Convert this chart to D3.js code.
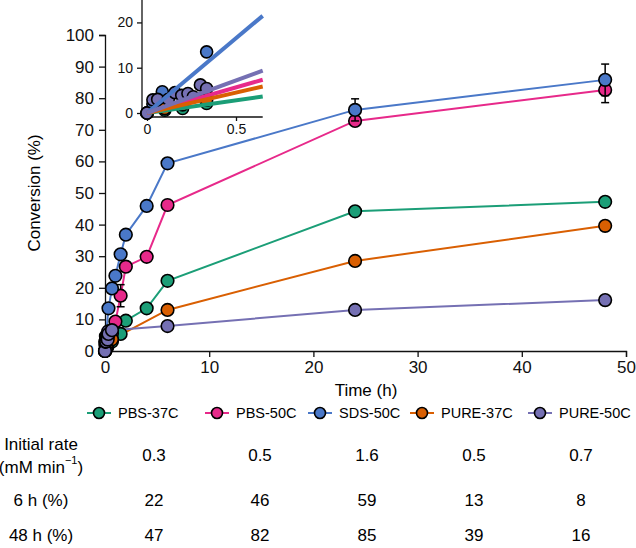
<!DOCTYPE html>
<html><head><meta charset="utf-8">
<script src="https://cdn.jsdelivr.net/npm/d3@7"></script>
<style>body{margin:0;background:#fff}svg{display:block;font-family:"Liberation Sans",Arial,sans-serif}</style>
</head><body>
<svg id="c" width="636" height="548"></svg>
<script>
const seriesNames = ["PBS-37C","PBS-50C","SDS-50C","PURE-37C","PURE-50C"];
const seriesColors = ["#1b9e77","#e7298a","#4a78c8","#d95f02","#7570b3"];

const timesPBS37 = [0,0.1,0.2,0.335,0.67,1.5,2,4,6,24,48];
const valsPBS37  = [0,0.6,1,2.1,3,5.4,9.6,13.5,22.2,44.2,47.2];
const errPBS37   = [0,0,0,0,0,0,0,0,0,0.8,1.5];

const timesPBS50 = [0,0.1,0.2,0.335,0.67,1,1.5,2,4,6,24,48];
const valsPBS50  = [0,1,2,3.5,5.5,9.3,17.5,26.7,29.8,46.2,72.8,82.6];
const errPBS50   = [0,0,0,0,0,0,3.5,0,1.5,0.5,0.8,4];

const timesSDS50 = [0,0.033,0.086,0.335,0.67,1,1.5,2,4,6,24,48];
const valsSDS50  = [0,2,4.7,13.5,19.8,23.8,30.6,36.8,45.9,59.4,76.3,85.8];
const errSDS50   = [0,0,0,0,0,0,0,0,0,1.5,3.5,5];

const timesPURE37 = [0,0.1,0.2,0.335,0.67,6,24,48];
const valsPURE37  = [0,1,1.8,2.8,3.7,13,28.5,39.6];
const errPURE37   = [0,0,0,0,0,0.5,1.5,0.5];

const timesPURE50 = [0,0.033,0.06,0.12,0.157,0.195,0.23,0.26,0.3,0.335,0.67,6,24,48];
const valsPURE50  = [0,2.9,3,3,4.5,3.9,4.3,3.6,6.2,5.4,6.6,7.9,13,16.1];
const errPURE50   = [0,0,0,0,0,0,0,0,0,0,0,0,0,0.5];

// initial slopes of the linear fits shown in the inset (% per h)
const insetSlopes = [5.6,11.3,33,9,14.4];

const initialRate = ["0.3","0.5","1.6","0.5","0.7"];
const conv6h = ["22","46","59","13","8"];
const conv48h = ["47","82","85","39","16"];

const xTicks = [0,10,20,30,40,50];
const yTicks = [0,10,20,30,40,50,60,70,80,90,100];
const insetXTicks = [0,0.5];
const insetYTicks = [0,10,20];

const series = seriesNames.map((n,i)=>{
  const T=[timesPBS37,timesPBS50,timesSDS50,timesPURE37,timesPURE50][i];
  const V=[valsPBS37,valsPBS50,valsSDS50,valsPURE37,valsPURE50][i];
  const E=[errPBS37,errPBS50,errSDS50,errPURE37,errPURE50][i];
  return {name:n,color:seriesColors[i],slope:insetSlopes[i],pts:T.map((t,j)=>({t,v:V[j],e:E[j]}))};
});

const svg = d3.select("#c");
const FONT = 17;

// main scales
const x = d3.scaleLinear().domain([0,50]).range([105,626]);
const y = d3.scaleLinear().domain([0,100]).range([351,35]);

const xAx = svg.append("g").attr("transform","translate(0,351)")
  .call(d3.axisBottom(x).tickValues(xTicks).tickSizeOuter(0).tickSize(6).tickPadding(4));
const yAx = svg.append("g").attr("transform","translate(105,0)")
  .call(d3.axisLeft(y).tickValues(yTicks).tickSizeOuter(0).tickSize(6).tickPadding(5));
[xAx,yAx].forEach(a=>{a.selectAll("text").attr("font-size",FONT).attr("font-family","Liberation Sans, Arial, sans-serif").attr("fill","#111");
  a.selectAll("line,path").attr("stroke","#111").attr("stroke-width",1.3);});

svg.append("text").attr("x",366).attr("y",390).attr("text-anchor","middle").attr("dominant-baseline","central")
  .attr("font-size",FONT).text("Time (h)");
svg.append("text").attr("transform","translate(34,193) rotate(-90)").attr("text-anchor","middle").attr("dominant-baseline","central")
  .attr("font-size",FONT).text("Conversion (%)");

const line = d3.line().x(d=>x(d.t)).y(d=>y(d.v));
const gMain = svg.append("g");
series.forEach(s=>{
  gMain.append("path").datum(s.pts).attr("d",line).attr("fill","none").attr("stroke",s.color).attr("stroke-width",2);
});
series.forEach(s=>{
  const g=gMain.append("g");
  s.pts.filter(d=>d.e>0).forEach(d=>{
    g.append("line").attr("x1",x(d.t)).attr("x2",x(d.t)).attr("y1",y(d.v-d.e)).attr("y2",y(d.v+d.e)).attr("stroke","#000").attr("stroke-width",1.5);
    [d.v-d.e,d.v+d.e].forEach(vv=>g.append("line").attr("x1",x(d.t)-4).attr("x2",x(d.t)+4).attr("y1",y(vv)).attr("y2",y(vv)).attr("stroke","#000").attr("stroke-width",1.5));
  });
  g.selectAll("circle").data(s.pts).join("circle").attr("cx",d=>x(d.t)).attr("cy",d=>y(d.v)).attr("r",6.3)
    .attr("fill",s.color).attr("stroke","#000").attr("stroke-width",1.6);
});

// inset
const iMax = 0.65;
const ix = d3.scaleLinear().domain([0,iMax]).range([147,147+178*iMax]);
const iy = d3.scaleLinear().domain([0,25.9]).range([113,-4.3]);
const ixAx = svg.append("g").attr("transform","translate(0,117)")
  .call(d3.axisBottom(ix).tickValues(insetXTicks).tickFormat(d3.format("")).tickSizeOuter(0).tickSize(4).tickPadding(3));
const iyAx = svg.append("g").attr("transform","translate(142,0)")
  .call(d3.axisLeft(iy).tickValues(insetYTicks).tickSizeOuter(0).tickSize(5).tickPadding(4));
ixAx.select("path.domain").attr("d","M142,0H"+ix(iMax));
iyAx.select("path.domain").attr("d","M0,117V0");
[ixAx,iyAx].forEach(a=>{a.selectAll("text").attr("font-size",14).attr("font-family","Liberation Sans, Arial, sans-serif").attr("fill","#111");
  a.selectAll("line,path").attr("stroke","#111").attr("stroke-width",1.3);});

const gIn = svg.append("g");
series.forEach(s=>{
  gIn.append("g").selectAll("circle").data(s.pts.filter(d=>d.t<=iMax)).join("circle")
    .attr("cx",d=>ix(d.t)).attr("cy",d=>iy(d.v)).attr("r",6).attr("fill",s.color).attr("stroke","#000").attr("stroke-width",1.6);
});
series.forEach(s=>{
  const tEnd = Math.min(iMax, 25.9/s.slope);
  gIn.append("line").attr("x1",ix(0)).attr("y1",iy(0)).attr("x2",ix(tEnd)).attr("y2",iy(s.slope*tEnd))
    .attr("stroke",s.color).attr("stroke-width",4);
});

// legend
const legX = [99,217,320,422,540];
const legY = 413;
series.forEach((s,i)=>{
  const g=svg.append("g");
  g.append("line").attr("x1",legX[i]-12).attr("x2",legX[i]+12).attr("y1",legY).attr("y2",legY).attr("stroke",s.color).attr("stroke-width",2);
  g.append("circle").attr("cx",legX[i]).attr("cy",legY).attr("r",5.5).attr("fill",s.color).attr("stroke","#000").attr("stroke-width",1.6);
  g.append("text").attr("x",legX[i]+19).attr("y",legY).attr("dominant-baseline","central").attr("font-size",14.5).text(s.name);
});

// table
const colX = [154,260,367,474,581];
const rowLabelX = 41;
svg.append("text").attr("x",rowLabelX).attr("y",444).attr("text-anchor","middle").attr("dominant-baseline","central").attr("font-size",FONT).text("Initial rate");
const t2 = svg.append("text").attr("x",rowLabelX).attr("y",467).attr("text-anchor","middle").attr("dominant-baseline","central").attr("font-size",FONT);
t2.append("tspan").text("(mM min");
t2.append("tspan").attr("font-size",11).attr("dy",-7).text("−1");
t2.append("tspan").attr("dy",7).text(")");
svg.append("text").attr("x",rowLabelX).attr("y",500).attr("text-anchor","middle").attr("dominant-baseline","central").attr("font-size",FONT).text("6 h (%)");
svg.append("text").attr("x",rowLabelX).attr("y",535).attr("text-anchor","middle").attr("dominant-baseline","central").attr("font-size",FONT).text("48 h (%)");
[[initialRate,455],[conv6h,500],[conv48h,535]].forEach(([arr,yy])=>{
  arr.forEach((v,i)=>svg.append("text").attr("x",colX[i]).attr("y",yy).attr("text-anchor","middle").attr("dominant-baseline","central").attr("font-size",FONT).text(v));
});
</script>
</body></html>
